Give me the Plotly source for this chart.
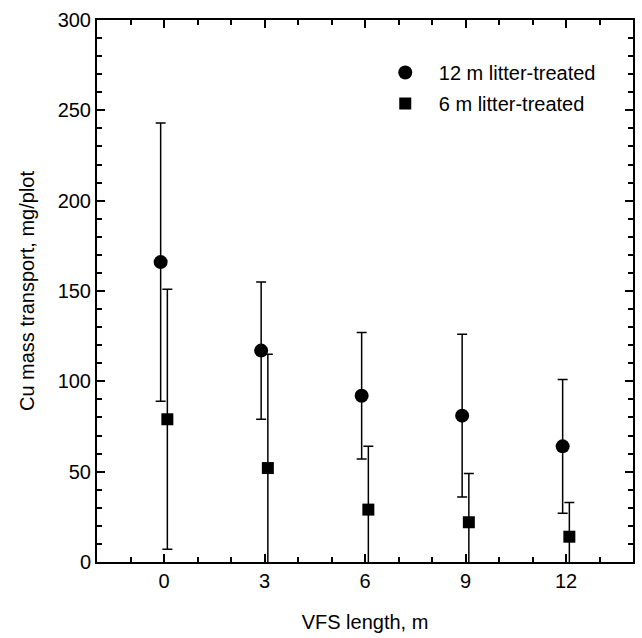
import plotly.graph_objects as go

vfs_length = [0, 3, 6, 9, 12]
treated12_mean = [166, 117, 92, 81, 64]
treated12_err = [77, 38, 35, 45, 37]
treated6_mean = [79, 52, 29, 22, 14]
treated6_err = [72, 63, 35, 27, 19]

off12 = -0.1
off6 = 0.1

font = dict(family="Liberation Sans, Arial, sans-serif", size=20, color="black")

fig = go.Figure()
fig.add_trace(go.Scatter(
    x=[v + off12 for v in vfs_length], y=treated12_mean, mode="markers",
    name="12 m litter-treated", legendgroup="a",
    marker=dict(symbol="circle", size=14, color="black"),
    error_y=dict(type="data", array=treated12_err, visible=True, color="black", thickness=1.5, width=5),
))
fig.add_trace(go.Scatter(
    x=[v + off6 for v in vfs_length], y=treated6_mean, mode="markers",
    name="6 m litter-treated", legendgroup="b",
    marker=dict(symbol="square", size=12, color="black"),
    error_y=dict(type="data", array=treated6_err, visible=True, color="black", thickness=1.5, width=5),
))

axis_common = dict(showline=True, linecolor="black", linewidth=2, mirror="ticks",
                   ticks="inside", ticklen=8, tickwidth=1.5, tickcolor="black",
                   showgrid=False, zeroline=False, tickfont=font)

fig.update_xaxes(range=[-2, 14], tickvals=vfs_length, ticktext=[str(v) for v in vfs_length],
                 minor=dict(dtick=1, tick0=0, ticks="inside", ticklen=5, tickwidth=1.5, tickcolor="black"),
                 title=dict(text="VFS length, m", font=font, standoff=24), **axis_common)
fig.update_yaxes(range=[0, 300], dtick=50, tick0=0,
                 minor=dict(dtick=10, tick0=0, ticks="inside", ticklen=5, tickwidth=1.5, tickcolor="black"),
                 title=dict(text="Cu mass transport, mg/plot", font=font, standoff=18), **axis_common)

fig.update_layout(
    width=642, height=638,
    margin=dict(l=97, r=7, t=20, b=76),
    plot_bgcolor="white", paper_bgcolor="white",
    font=font,
    showlegend=True,
    legend=dict(x=0.5126, y=0.939, xanchor="left", yanchor="top", bgcolor="rgba(0,0,0,0)",
                tracegroupgap=2, traceorder="grouped", font=font, itemwidth=57),
)

fig.write_html("out.html")
